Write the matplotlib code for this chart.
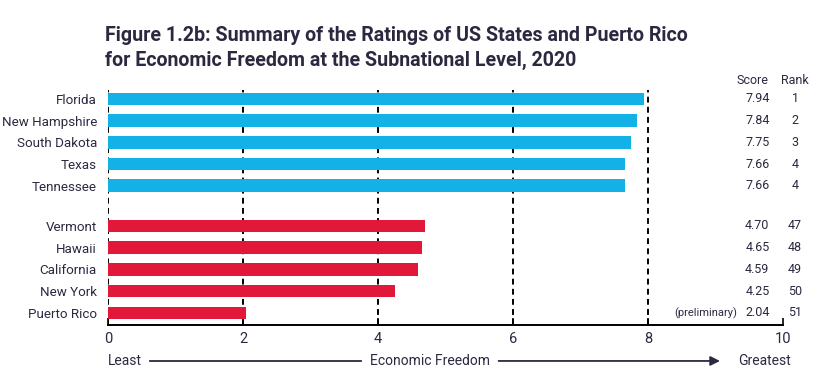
import numpy as np
import matplotlib.pyplot as plt
from matplotlib import font_manager

# ____________________________________________________________
# data

top_states = ['Florida', 'New Hampshire', 'South Dakota', 'Texas', 'Tennessee']
top_scores = [7.94, 7.84, 7.75, 7.66, 7.66]
top_ranks = [1, 2, 3, 4, 4]

bottom_states = ['Vermont', 'Hawaii', 'California', 'New York', 'Puerto Rico']
bottom_scores = [4.70, 4.65, 4.59, 4.25, 2.04]
bottom_ranks = [47, 48, 49, 50, 51]

xticks = [0, 2, 4, 6, 8, 10]

# ____________________________________________________________
# style

names = {f.name for f in font_manager.fontManager.ttflist}
font = 'Liberation Sans Narrow' if 'Liberation Sans Narrow' in names else 'Roboto'
plt.rcParams['font.family'] = [font, 'DejaVu Sans']
txt = '#2b2940'
blue = '#13b1e6'
red = '#e2183a'

# ____________________________________________________________
# plot

fig = plt.figure(figsize=(8.2, 3.76), dpi=100)
ax = fig.add_axes([0.1317, 0.1356, 0.8232, 0.625])

ypos_top = np.arange(len(top_states))
ypos_bot = np.arange(len(bottom_states)) + 5.85

for x in xticks[:-1]:
    ax.axvline(x, color='black', lw=1.4, ls=(0, (3, 2.2)), zorder=1)

ax.barh(ypos_top, top_scores, height=0.58, color=blue, zorder=2)
ax.barh(ypos_bot, bottom_scores, height=0.58, color=red, zorder=2)

ax.set_xlim(0, 10)
ax.set_ylim(10.41, -0.41)
ax.set_yticks(np.concatenate([ypos_top, ypos_bot]))
ax.set_yticklabels(top_states + bottom_states, fontsize=9.6, color=txt)
ax.tick_params(axis='y', length=0, pad=8)
ax.set_xticks(xticks)
ax.set_xticklabels([str(x) for x in xticks], fontsize=10.5, color=txt)
ax.tick_params(axis='x', direction='in', length=5, width=1.2, pad=5)
for s in ['top', 'right', 'left']:
    ax.spines[s].set_visible(False)
ax.spines['bottom'].set_linewidth(1.4)

# score / rank columns
ax.text(9.79, -0.85, 'Score', ha='right', va='center', fontsize=9, color=txt, clip_on=False)
ax.text(10.18, -0.85, 'Rank', ha='center', va='center', fontsize=9, color=txt, clip_on=False)
for y, sc, rk in zip(np.concatenate([ypos_top, ypos_bot]), top_scores + bottom_scores,
                     top_ranks + bottom_ranks):
    ax.text(9.8, y, f'{sc:.2f}', ha='right', va='center', fontsize=9, color=txt, clip_on=False)
    ax.text(10.18, y, str(rk), ha='center', va='center', fontsize=9, color=txt, clip_on=False)
ax.text(9.32, ypos_bot[-1], '(preliminary)', ha='right', va='center', fontsize=8, color=txt, clip_on=False)

# bottom arrow label
fig.text(0.131, 0.04, 'Least', ha='left', va='center', fontsize=10, color=txt)
fig.text(0.524, 0.04, 'Economic Freedom', ha='center', va='center', fontsize=10, color=txt)
fig.text(0.965, 0.04, 'Greatest', ha='right', va='center', fontsize=10, color=txt)
fig.add_artist(plt.Line2D([0.183, 0.440], [0.04, 0.04], color=txt, lw=1.3))
ax.annotate('', xy=(0.878, 0.04), xytext=(0.608, 0.04), xycoords='figure fraction',
            textcoords='figure fraction', annotation_clip=False,
            arrowprops=dict(arrowstyle='-|>', color=txt, lw=1.3, mutation_scale=14,
                            shrinkA=0, shrinkB=0))

# title
fig.text(0.128, 0.905, 'Figure 1.2b: Summary of the Ratings of US States and Puerto Rico',
         fontsize=14.1, fontweight='bold', color=txt, va='center')
fig.text(0.128, 0.838, 'for Economic Freedom at the Subnational Level, 2020',
         fontsize=14.1, fontweight='bold', color=txt, va='center')

plt.savefig('out.png', dpi=100)
